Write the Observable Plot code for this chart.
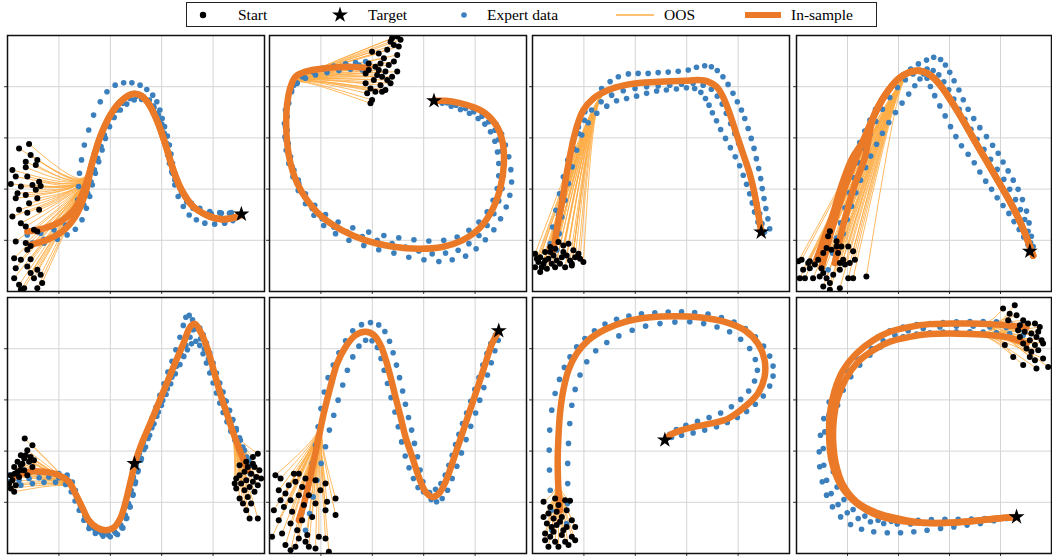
<!DOCTYPE html>
<html><head><meta charset="utf-8">
<script src="https://cdn.jsdelivr.net/npm/d3@7"></script>
<script src="https://cdn.jsdelivr.net/npm/@observablehq/plot@0.6"></script>
<style>
body{margin:0;background:#fff;width:1052px;height:556px;position:relative;overflow:hidden;font-family:"Liberation Serif","DejaVu Serif",serif}
#legend{position:absolute;left:186px;top:2px;width:691px;height:25px;border:1px solid #222;box-sizing:border-box;background:#fff}
.lg{position:absolute;top:3px;font-size:15.5px;color:#000;line-height:18px;white-space:nowrap}
.panel{position:absolute}
</style></head><body>
<div id="legend">
<svg id="lgsvg" width="691" height="25" style="position:absolute;left:-1px;top:-1px"></svg>
<span class="lg" style="left:51px">Start</span>
<span class="lg" style="left:181px">Target</span>
<span class="lg" style="left:300px">Expert data</span>
<span class="lg" style="left:477px">OOS</span>
<span class="lg" style="left:604px">In-sample</span>
</div>
<script>
// ---------- Panel 1 ----------
const p1Main = [[7.7,23.4],[14.2,24.7],[20.6,27.3],[25.8,31.9],[29.7,39.7],[32.9,50.1],[36.1,60.5],[40.0,68.9],[43.9,74.1],[48.4,77.1],[51.6,76.7],[54.8,73.5],[58.1,67.0],[61.3,57.9],[64.5,47.5],[67.7,39.7],[72.2,33.2],[77.4,29.9],[82.6,28.3],[87.7,28.7],[90.9,29.9]];
const p1Alt = [[9.0,18.2],[15.5,20.2],[21.3,23.4],[26.4,29.3],[30.3,38.4]];
const p1Target = [91.0,30.2];
const p1DemoA = [[9.7,18.9],[14.2,20.4],[18.7,22.1],[21.9,24.1],[24.5,26.7],[26.4,30.6],[27.3,35.8],[27.7,41.0],[28.0,46.2],[28.8,51.4],[29.9,57.2],[31.6,63.1],[33.5,68.9],[36.1,74.1],[38.7,78.0],[41.9,80.6],[45.2,81.5],[48.4,81.5],[51.6,80.6],[54.2,78.9],[56.5,76.7],[58.1,74.1],[59.3,70.9],[60.2,67.6],[61.1,64.4],[62.2,60.7],[63.0,57.2],[63.6,53.7],[64.2,50.1],[65.1,46.2],[66.2,42.3],[67.7,38.4],[69.7,35.1],[72.2,32.5],[75.5,30.9],[79.3,30.4],[83.2,30.6],[87.1,30.8],[90.3,30.2]];
const p1DemoB = [[7.7,22.1],[12.9,22.8],[18.1,24.1],[22.6,26.0],[26.4,29.3],[29.7,33.8],[31.2,38.4],[32.5,42.9],[33.8,47.5],[35.1,52.0],[36.4,56.6],[37.7,61.1],[39.0,65.0],[40.6,68.3],[42.6,70.9],[44.9,73.5],[47.7,75.4],[50.3,76.3],[52.9,76.1],[55.2,74.8],[56.8,72.4],[58.1,69.6],[59.1,66.3],[60.0,63.1],[60.9,59.8],[61.7,56.6],[62.3,53.3],[63.0,50.1],[63.9,46.8],[65.1,43.6],[67.1,40.3],[69.0,37.1],[71.6,34.5],[74.8,32.5],[78.7,31.2],[82.6,30.8],[86.4,30.6]];
const p1DemoC = [[9.0,18.2],[14.2,18.9],[19.4,20.4],[23.2,22.1],[26.4,24.3],[29.0,28.0],[30.7,32.5],[32.0,37.1],[33.0,41.6],[34.2,46.2],[35.5,50.7],[36.8,55.3],[38.1,59.8],[39.7,64.4],[41.5,68.0],[43.9,70.9],[46.4,73.2],[49.3,74.8],[52.2,75.0],[54.8,74.1],[57.0,71.9],[58.7,68.9],[60.0,65.4],[61.0,61.8],[61.9,57.9],[62.8,54.0],[63.5,50.1],[64.2,46.2],[65.1,41.6],[66.4,37.1],[68.4,33.2],[70.7,29.9],[73.5,28.0],[76.8,26.7],[80.6,26.3],[84.5,26.7],[87.7,27.7],[90.0,29.3]];
const p1Starts = [[8.4,57.6],[4.5,55.9],[9.0,53.3],[11.6,51.4],[7.1,50.7],[1.9,47.5],[11.0,49.4],[7.1,48.5],[3.2,44.9],[7.7,44.9],[12.3,42.9],[9.7,41.6],[1.3,42.0],[5.2,41.0],[12.9,41.2],[11.0,39.7],[3.9,38.4],[7.1,37.7],[11.6,36.4],[3.2,36.4],[8.4,34.5],[4.5,31.9],[12.3,31.9],[7.7,30.8],[1.9,29.3],[5.2,26.7],[7.1,25.4],[10.3,24.1],[11.6,23.4],[3.2,19.5],[7.1,18.9],[9.0,17.8],[7.7,16.3],[2.6,13.0],[5.2,12.4],[9.0,12.6],[3.2,9.1],[7.7,9.8],[11.6,8.5],[12.9,6.5],[10.3,5.2],[4.5,2.6],[6.5,1.3],[11.6,1.3],[5.2,0.7],[2.6,5.2],[13.5,3.3],[9.0,7.2]];

// ---------- Panel 2 ----------
const p2Main = [[38.6,87.2],[30.9,87.8],[21.8,87.2],[14.0,85.9],[10.1,83.9],[8.2,80.0],[6.9,73.5],[6.5,65.6],[6.9,57.8],[8.2,50.0],[10.8,42.2],[14.7,35.6],[20.5,29.1],[28.3,23.9],[37.4,20.0],[47.7,17.6],[58.1,16.7],[67.2,17.4],[75.0,20.0],[81.5,24.5],[86.6,31.7],[89.9,40.8],[91.2,50.0],[90.8,57.8],[88.6,64.3],[84.0,69.6],[78.9,72.2],[73.7,73.7],[68.5,74.5],[63.9,74.5]];
const p2Target = [64.0,74.5];
const p2DemoA = [[37.4,89.8],[33.5,89.4],[29.6,88.9],[25.0,88.1],[20.5,87.2],[16.6,85.9],[12.7,83.9],[9.5,80.6],[7.3,76.1],[6.2,70.9],[5.8,65.6],[6.0,60.4],[6.5,55.2],[7.5,50.0],[9.1,44.8],[11.2,39.5],[14.0,34.3],[17.3,29.8],[21.1,25.8],[25.7,22.6],[30.9,20.0],[36.7,18.0],[42.5,16.3],[48.4,15.0],[54.2,13.4],[60.1,12.4],[65.9,11.7],[71.1,12.4],[76.3,13.8],[80.4,16.7],[84.0,20.2],[87.3,24.1],[89.9,28.4],[92.1,33.0],[93.5,37.6],[94.2,42.8],[93.9,47.6],[93.1,52.6],[91.8,57.2],[90.3,61.5],[88.2,65.3],[85.6,68.0],[82.5,70.2],[78.9,71.9],[75.0,73.2],[71.1,74.1],[67.2,74.5]];
const p2DemoB = [[36.1,86.5],[31.5,86.8],[27.0,86.3],[22.4,85.5],[17.9,84.6],[14.0,83.3],[10.8,81.3],[8.6,78.0],[7.5,73.5],[6.9,68.3],[6.9,63.0],[7.3,57.8],[8.2,52.6],[9.5,47.4],[11.4,42.2],[13.7,36.9],[16.6,32.4],[20.5,28.4],[25.0,25.2],[30.2,23.2],[36.1,21.5],[41.9,20.0],[47.7,18.7],[52.9,17.4],[58.1,15.8],[63.3,14.7],[68.5,15.0],[73.4,16.1],[77.6,18.7],[81.5,21.9],[84.7,25.8],[87.3,30.4],[89.2,35.4],[90.5,40.2],[90.9,45.2],[90.8,50.0],[90.3,54.9],[89.2,59.4],[87.7,63.0],[85.3,66.3],[82.7,68.5],[79.5,70.2],[76.3,71.5],[72.6,72.8],[69.1,73.7],[65.9,74.3]];
const p2DemoC = [[34.8,88.5],[30.2,88.1],[25.7,87.6],[21.1,86.8],[17.3,85.5],[13.4,83.9],[10.4,81.6],[8.6,78.7],[7.3,74.8],[6.5,69.6],[6.2,64.3],[6.5,59.1],[7.3,53.9],[8.8,48.7],[11.2,43.5],[14.0,38.2],[17.6,33.7],[21.8,30.1],[26.7,27.1],[32.4,24.9],[38.6,23.2],[44.5,21.9],[50.3,21.0],[56.2,20.2],[62.0,19.7],[67.8,20.0],[73.0,21.3],[77.6,23.9],[81.5,27.1],[84.7,31.1],[87.0,35.6],[88.6,40.2],[89.2,45.2],[89.2,50.0],[88.7,54.5],[87.7,58.7],[86.0,62.4],[83.8,65.4],[81.2,67.6],[77.8,69.6],[74.3,71.1],[70.7,72.4],[67.2,73.5]];
const p2Starts = [[49.7,99.6],[51.0,98.3],[47.7,98.9],[50.3,95.7],[48.4,96.3],[45.8,94.4],[49.7,92.4],[42.5,93.0],[39.9,93.7],[44.5,91.1],[38.6,89.1],[43.2,89.1],[46.4,88.5],[41.2,87.8],[49.7,85.9],[45.1,85.9],[37.4,85.2],[43.8,83.9],[47.7,83.9],[40.6,82.6],[37.4,81.3],[47.1,81.3],[43.2,80.6],[39.3,79.3],[45.1,78.7],[41.2,78.0],[38.0,77.4],[43.8,78.0],[39.9,74.8],[39.3,73.5],[42.5,86.5],[48.4,89.8],[47.1,97.6],[38.6,86.5],[45.8,82.6],[41.9,84.6]];

// ---------- Panel 3 ----------
const p3Main = [[8.2,16.1],[9.4,23.9],[11.4,34.3],[13.3,46.1],[15.3,56.5],[17.2,64.3],[19.8,70.9],[23.7,75.4],[29.5,78.7],[36.0,80.6],[43.7,81.6],[51.5,82.0],[59.3,82.3],[64.4,82.6],[68.3,82.0],[71.6,80.0],[74.1,76.1],[76.7,69.6],[79.3,61.7],[81.9,53.9],[84.5,46.1],[86.4,38.2],[87.7,31.1],[89.0,23.2]];
const p3Target = [89.0,23.2];
const p3DemoA = [[6.9,18.7],[7.8,25.2],[9.1,31.7],[10.5,38.2],[12.0,44.8],[13.7,51.3],[15.5,57.8],[17.9,64.3],[20.4,70.2],[23.7,75.4],[26.9,79.3],[30.2,82.0],[33.4,83.9],[37.3,85.0],[41.1,85.2],[45.0,85.2],[48.9,85.5],[52.8,85.7],[56.7,86.0],[60.6,86.5],[63.8,87.6],[67.0,88.2],[69.6,87.8],[71.9,86.3],[74.1,83.9],[76.1,80.9],[78.0,77.4],[79.7,74.1],[81.3,70.9],[82.6,67.6],[83.9,63.7],[85.1,59.8],[86.2,55.9],[87.1,51.9],[88.0,48.0],[88.8,44.1],[89.4,40.2],[90.1,36.3],[90.8,32.4],[91.6,28.4],[92.3,24.5]];
const p3DemoB = [[8.2,16.7],[9.1,23.2],[10.1,29.8],[11.4,36.3],[12.7,42.8],[14.2,49.3],[15.9,55.9],[17.9,61.7],[20.2,66.9],[23.0,70.9],[26.7,74.1],[30.8,76.7],[35.3,78.4],[39.9,79.3],[44.4,80.0],[48.9,80.3],[53.4,80.6],[58.0,81.0],[62.5,81.3],[66.4,80.6],[69.6,79.0],[71.9,76.3],[73.8,73.2],[75.4,69.6],[77.1,65.6],[78.7,61.7],[80.2,57.8],[81.9,53.9],[83.2,50.0],[84.5,46.1],[85.5,42.2],[86.4,38.2],[87.3,34.3],[88.4,30.4],[89.3,26.5],[90.3,23.2]];
const p3DemoC = [[9.4,16.1],[10.4,22.6],[11.4,29.1],[12.7,35.6],[14.0,42.2],[15.5,48.7],[17.2,55.2],[19.2,61.1],[21.7,65.9],[25.0,69.6],[28.9,72.4],[32.7,74.5],[36.6,75.4],[40.5,76.3],[44.4,77.4],[48.3,78.3],[52.1,78.7],[56.0,79.1],[59.9,79.6],[63.1,79.3],[65.5,77.8],[67.3,75.4],[68.7,72.8],[70.0,69.8],[71.6,66.7],[73.2,63.3],[75.1,59.8],[77.0,56.2],[78.9,52.6],[80.6,49.1],[82.0,45.4],[83.3,41.9],[84.5,38.2],[85.5,34.6],[86.4,31.1],[87.7,27.1],[89.3,23.9]];
const p3Starts = [[1.0,14.7],[3.0,13.4],[4.9,15.4],[6.9,17.4],[8.8,16.7],[10.1,19.3],[12.0,18.0],[14.0,18.7],[15.9,16.1],[17.9,14.7],[19.8,11.5],[18.5,12.8],[14.6,12.1],[12.7,9.5],[15.3,10.8],[11.4,13.4],[9.4,12.1],[7.5,10.8],[6.2,12.8],[4.3,10.8],[2.3,11.5],[1.0,9.5],[3.0,7.6],[5.6,8.9],[8.8,9.5],[10.7,10.8],[13.3,14.1],[16.6,13.4],[8.2,14.1],[4.9,12.1],[1.7,12.8],[12.0,15.4],[6.9,15.4],[3.6,9.5],[15.3,10.2]];

// ---------- Panel 4 ----------
const p4Main = [[9.8,9.1],[12.4,19.0],[15.0,28.1],[18.3,38.6],[22.2,49.0],[26.1,58.8],[30.1,68.0],[34.6,76.5],[39.9,83.0],[45.1,85.9],[49.7,85.9],[53.6,83.6],[57.5,79.1],[61.4,73.2],[65.4,66.7],[69.9,58.8],[74.5,51.0],[79.1,43.1],[83.6,35.3],[87.6,27.4],[90.8,19.6],[92.8,14.0]];
const p4AltA = [[7.8,12.4],[11.1,21.6],[14.4,30.7],[17.6,41.2],[21.6,51.6]];
const p4AltB = [[15.0,11.1],[17.0,20.3],[19.6,30.7],[22.9,41.8],[26.8,52.3]];
const p4Target = [91.5,15.7];
const p4DemoA = [[10.5,12.4],[11.8,17.6],[13.3,22.9],[15.0,28.1],[16.7,33.3],[18.3,38.6],[19.9,43.8],[21.4,48.8],[23.1,53.6],[24.8,58.2],[26.8,62.7],[28.8,67.0],[31.0,71.2],[33.3,74.9],[35.9,78.4],[38.8,81.7],[41.8,84.6],[44.8,86.9],[47.8,88.9],[51.0,90.4],[53.8,91.5],[56.5,90.6],[58.4,88.5],[60.1,85.6],[61.8,82.3],[63.7,78.7],[65.4,74.9],[67.3,71.2],[69.5,67.6],[71.9,64.0],[74.5,60.5],[76.9,57.1],[79.1,54.0],[81.0,50.6],[83.0,47.1],[85.0,43.5],[86.9,39.9],[88.6,35.9],[90.2,31.4],[91.2,26.8],[92.1,21.6],[92.8,17.6]];
const p4DemoB = [[15.0,11.1],[16.7,17.0],[18.3,22.6],[19.9,28.1],[21.6,33.3],[23.3,38.6],[25.1,43.5],[27.1,48.4],[29.1,52.9],[31.4,57.5],[33.7,61.8],[36.2,66.0],[38.8,69.9],[41.4,73.6],[44.0,77.1],[46.4,80.4],[48.4,83.0],[49.9,85.0],[51.2,83.3],[52.5,80.1],[54.2,76.5],[56.2,72.5],[58.3,68.6],[60.4,64.4],[62.5,60.5],[64.7,56.9],[67.3,53.6],[69.7,50.3],[71.9,46.7],[74.2,43.1],[76.5,39.9],[78.7,36.6],[81.0,33.6],[83.3,30.5],[85.3,27.3],[87.3,24.2],[89.1,21.3],[90.8,18.3],[92.1,15.7]];
const p4DemoC = [[12.4,8.5],[14.1,15.0],[15.7,20.9],[17.3,26.8],[19.0,32.7],[20.7,38.6],[22.5,44.4],[24.4,50.3],[26.5,55.9],[28.8,61.4],[31.1,66.4],[33.7,71.2],[36.6,75.8],[39.6,79.7],[42.7,82.7],[45.7,85.0],[48.6,86.3],[51.2,86.9],[53.6,86.3],[55.8,84.6],[57.8,81.9],[59.7,78.8],[61.7,75.2],[63.8,71.2],[66.0,67.3],[68.4,63.4],[70.8,59.5],[73.5,55.5],[76.1,51.6],[78.7,47.7],[81.3,43.8],[83.6,39.9],[85.9,35.9],[87.8,32.0],[89.5,28.1],[90.8,23.5],[91.8,19.0]];
const p4Starts = [[13.1,23.5],[15.7,19.6],[17.6,17.6],[20.3,17.6],[22.2,15.7],[22.9,12.4],[20.9,11.1],[18.3,12.4],[16.3,15.0],[13.7,16.3],[11.8,17.0],[10.5,15.0],[8.5,12.4],[5.2,11.8],[2.0,12.4],[0.7,11.8],[2.6,8.5],[4.6,11.1],[7.2,10.5],[9.8,9.1],[10.5,7.2],[9.1,5.9],[11.8,5.2],[13.1,3.3],[10.5,2.0],[14.4,6.5],[17.0,8.5],[19.0,10.5],[20.3,5.2],[22.2,5.2],[17.0,1.3],[13.1,0.7],[27.4,5.9],[6.5,5.2],[3.3,5.2],[1.3,5.2],[15.7,17.6],[12.4,21.6],[17.0,11.1],[5.2,9.1]];

// ---------- Panel 5 ----------
const p5Left = [[2.6,29.9],[7.7,31.9],[14.2,31.9],[20.0,30.6],[23.9,28.0],[26.4,23.4],[29.0,18.2],[31.6,13.0],[34.8,10.1],[38.1,9.1],[41.3,10.1],[43.9,13.7],[45.8,19.5],[47.7,27.3],[49.4,34.8]];
const p5Right = [[93.5,32.5],[90.9,39.0],[88.4,45.5],[85.8,53.3],[83.2,61.1],[80.6,70.2],[78.0,79.3],[75.5,85.8],[72.9,89.7],[71.0,88.4],[68.4,81.9],[65.1,74.1],[61.9,66.3],[58.7,58.5],[55.5,50.7],[52.2,42.9],[49.4,34.8]];
const p5Target = [49.4,35.1];
const p5DemoA = [[0.6,30.6],[4.5,31.2],[8.4,31.5],[12.3,31.5],[16.1,31.5],[20.0,31.2],[23.2,30.6],[25.2,27.9],[26.4,24.7],[27.7,20.8],[29.4,16.9],[31.2,13.0],[33.3,10.1],[35.9,8.5],[38.7,7.8],[41.7,8.5],[44.1,11.1],[45.8,15.0],[47.1,19.5],[48.1,24.7],[49.0,29.9],[50.1,34.5],[51.3,39.0],[52.9,43.6],[54.6,48.1],[56.2,52.7],[57.8,57.2],[59.3,61.8],[60.9,66.3],[62.4,70.9],[64.0,75.1],[65.5,79.6],[67.1,84.5],[68.4,89.1],[69.4,92.3],[70.7,93.0],[72.0,91.3],[73.5,87.8],[75.1,83.9],[76.6,80.0],[78.2,76.1],[79.7,71.8],[81.3,67.6],[82.8,63.7],[84.4,59.8],[85.9,55.9],[87.5,52.0],[89.0,48.1],[90.6,44.2],[92.2,40.3],[93.9,36.4]];
const p5DemoB = [[0.6,28.0],[4.5,28.6],[8.4,29.3],[12.3,29.6],[16.1,29.9],[20.0,29.6],[23.2,28.9],[25.2,26.0],[26.8,22.4],[28.4,18.5],[30.1,14.6],[32.0,11.1],[34.2,8.8],[36.8,7.5],[39.3,7.2],[42.2,7.8],[44.5,10.1],[46.2,13.7],[47.6,18.2],[48.8,23.1],[49.8,28.0],[50.8,32.5],[52.1,37.1],[53.7,41.6],[55.3,46.2],[57.0,50.7],[58.7,55.3],[60.4,59.8],[62.2,64.4],[64.0,68.9],[65.8,73.1],[67.7,77.4],[69.4,81.3],[71.0,84.5],[72.2,87.4],[73.5,89.1],[74.8,88.1],[76.1,85.5],[77.4,82.2],[78.7,78.3],[80.0,74.4],[81.3,70.5],[82.6,66.6],[83.9,63.1],[85.1,59.5],[86.4,55.9],[87.7,52.3],[89.0,48.8],[90.3,45.2],[91.6,41.6],[93.1,37.7],[94.8,34.5]];
const p5DemoC = [[0.6,26.0],[5.2,26.7],[9.7,27.3],[14.2,27.8],[18.7,27.8],[22.6,27.0],[24.8,24.1],[26.3,20.5],[27.9,16.9],[29.7,13.0],[31.7,9.8],[34.2,7.8],[37.2,6.8],[40.0,6.5],[42.8,7.4],[44.9,10.0],[46.4,13.8],[47.7,18.2],[48.8,22.8],[49.7,27.3],[50.7,31.9],[51.9,36.4],[53.1,40.6],[54.7,44.9],[56.2,49.1],[58.1,53.6],[59.9,57.9],[61.7,62.1],[63.5,66.3],[65.3,70.2],[67.1,73.8],[68.6,77.0],[70.0,79.6],[71.6,81.9],[73.3,82.9],[74.8,81.3],[76.1,78.0],[77.4,74.4],[78.7,70.5],[80.0,66.6],[81.3,62.7],[82.6,58.8],[83.9,55.1],[85.4,51.5],[86.9,47.8],[88.5,44.2],[90.0,40.6],[91.6,37.1],[93.1,33.8],[94.4,31.2]];
const p5StartsLeft = [[6.7,44.9],[9.7,42.3],[7.7,40.3],[5.2,38.4],[9.0,37.7],[6.5,37.1],[3.9,35.8],[8.4,35.8],[5.2,34.5],[2.6,33.8],[9.7,33.8],[6.5,32.5],[3.9,31.9],[1.3,30.6],[7.7,30.6],[4.5,29.9],[1.9,28.6],[0.6,27.3],[3.2,26.7],[1.3,25.4],[2.6,24.1],[5.8,35.1],[7.1,38.4],[10.3,36.4],[4.9,32.5],[2.8,31.2]];
const p5StartsRight = [[97.4,39.0],[95.5,37.7],[92.9,35.8],[90.3,34.5],[93.5,33.8],[96.1,33.8],[98.0,32.5],[92.2,31.9],[94.8,31.2],[90.3,30.6],[96.8,29.9],[89.0,29.3],[92.9,28.6],[95.5,28.0],[90.9,27.3],[97.4,26.7],[94.2,26.0],[89.0,25.4],[92.2,24.7],[96.1,24.1],[90.3,21.5],[93.5,22.1],[91.6,19.5],[92.9,16.9],[94.2,13.7],[97.4,13.7],[88.4,27.3],[95.5,35.1],[98.7,29.3],[94.8,19.5]];

// ---------- Panel 6 ----------
const p6Main = [[11.4,13.0],[13.4,19.5],[15.3,27.3],[17.3,36.5],[19.2,45.6],[21.1,54.7],[23.7,65.1],[26.3,74.2],[29.6,80.7],[33.5,85.3],[37.4,86.6],[40.6,85.3],[43.2,81.4],[45.1,76.2],[47.1,69.0],[49.0,61.2],[51.0,53.4],[52.9,45.6],[55.5,37.8],[58.1,29.9],[60.7,24.1],[63.3,22.1],[65.9,23.4],[68.5,28.0],[71.1,35.2],[73.7,43.0],[76.3,50.8],[78.9,58.6],[81.5,66.4],[84.0,74.2],[86.6,82.0],[89.2,87.0]];
const p6Target = [89.2,87.0];
const p6DemoA = [[10.8,9.1],[12.5,15.6],[14.0,22.1],[15.3,28.6],[16.6,35.2],[17.9,42.3],[18.9,49.5],[20.0,56.6],[21.3,63.1],[22.8,68.7],[24.8,73.6],[27.0,78.4],[29.6,83.1],[32.4,87.0],[35.8,89.4],[39.3,90.2],[42.5,89.3],[44.9,86.7],[46.7,82.9],[48.1,78.4],[49.4,73.6],[50.6,68.7],[51.8,63.5],[52.9,58.3],[54.1,53.1],[55.3,48.2],[56.4,43.0],[57.6,37.8],[58.6,32.6],[59.7,28.0],[61.0,24.1],[62.9,21.1],[65.0,20.2],[67.2,21.5],[69.3,24.7],[71.1,29.3],[72.9,34.1],[74.7,39.3],[76.5,44.5],[78.3,49.7],[80.2,54.9],[81.8,59.9],[83.4,64.8],[84.8,69.7],[86.3,74.5],[87.7,79.2],[89.0,83.3]];
const p6DemoB = [[14.0,9.1],[15.6,15.6],[17.0,22.1],[18.5,28.6],[20.1,35.2],[21.8,41.7],[23.3,48.2],[25.0,54.0],[26.7,59.9],[28.5,65.8],[30.3,71.6],[32.4,76.8],[34.8,81.0],[37.4,83.3],[39.9,83.1],[42.0,80.5],[43.4,76.2],[44.6,71.6],[45.9,66.4],[47.3,60.9],[48.8,55.3],[50.1,49.5],[51.4,43.6],[52.8,38.1],[54.3,33.5],[56.0,29.3],[57.8,25.8],[59.9,24.1],[62.3,23.8],[64.6,25.1],[66.7,27.3],[68.4,30.6],[69.8,34.5],[71.1,38.4],[72.4,42.6],[73.7,46.6],[75.1,50.8],[76.7,54.9],[78.3,59.5],[79.9,64.1],[81.5,68.7],[83.0,73.6],[84.6,78.1],[86.1,82.0],[87.9,85.3]];
const p6Starts = [[2.3,30.6],[4.3,29.3],[9.5,31.2],[11.4,31.2],[3.6,24.7],[7.5,26.7],[10.1,28.0],[14.0,29.3],[17.9,28.6],[21.8,27.3],[12.7,26.0],[6.2,23.4],[11.4,22.8],[4.3,20.8],[8.2,20.8],[15.3,22.8],[19.8,24.7],[25.7,21.5],[1.7,16.9],[5.6,18.2],[8.8,16.3],[13.4,18.9],[17.9,19.5],[22.4,20.2],[3.6,13.0],[8.2,11.7],[12.7,13.0],[16.6,14.3],[21.8,16.9],[25.7,15.0],[1.0,6.5],[4.9,7.8],[10.8,9.1],[14.7,7.2],[19.2,6.5],[21.8,5.9],[6.2,3.3],[10.1,2.6],[15.3,2.6],[17.9,2.0],[8.2,1.3],[23.1,0.7],[11.4,5.9],[14.0,4.6]];

// ---------- Panel 7 ----------
const p7Main = [[10.7,16.9],[10.1,24.7],[9.8,35.2],[10.1,45.6],[10.7,54.7],[12.0,63.8],[14.0,71.6],[17.2,78.1],[21.7,83.3],[28.2,87.5],[36.0,90.5],[45.0,92.2],[55.4,92.7],[65.7,92.2],[74.8,90.5],[82.6,87.2],[87.7,82.0],[90.3,75.5],[90.3,69.0],[87.7,62.5],[82.6,57.3],[76.1,52.7],[69.6,50.8],[63.1,49.5],[58.0,48.2],[54.1,46.6],[52.3,45.3]];
const p7Target = [51.5,44.3];
const p7DemoA = [[7.5,9.1],[7.2,16.9],[6.9,24.7],[6.6,32.6],[6.5,40.4],[6.7,48.2],[7.5,56.0],[8.8,62.5],[10.5,68.0],[12.4,72.7],[14.6,76.8],[17.2,80.7],[20.4,84.0],[24.1,87.0],[28.2,89.6],[32.7,91.5],[37.5,92.8],[42.4,93.6],[47.6,94.0],[52.8,94.3],[58.0,94.4],[63.1,94.1],[68.3,93.5],[73.5,92.2],[78.4,90.4],[82.8,87.9],[86.7,84.6],[89.9,81.0],[92.3,77.1],[93.6,73.2],[93.6,69.3],[92.3,65.4],[89.8,61.5],[86.7,58.3],[83.3,55.5],[79.7,53.1],[75.8,51.2],[71.6,49.5],[67.0,48.2],[62.5,47.1],[58.0,46.2],[54.1,45.3]];
const p7DemoB = [[13.3,11.7],[13.6,19.5],[13.7,27.3],[13.7,35.2],[14.0,43.0],[14.5,50.8],[15.3,57.9],[16.6,64.1],[18.5,69.7],[21.1,74.9],[24.6,79.2],[28.9,82.4],[33.6,85.0],[38.8,87.2],[44.0,88.8],[49.6,89.8],[55.4,90.4],[61.2,90.5],[66.6,89.8],[71.8,88.5],[76.7,86.6],[81.0,83.7],[84.5,80.1],[86.7,75.8],[87.5,71.6],[86.4,67.4],[84.1,63.5],[81.0,60.2],[77.4,57.3],[73.2,54.9],[68.7,53.1],[64.2,51.6],[59.7,50.1],[56.0,48.4],[53.4,46.6]];
const p7Starts = [[4.3,20.2],[8.8,21.5],[12.7,20.8],[14.6,20.6],[6.9,18.2],[10.1,18.9],[6.2,15.6],[9.4,16.3],[13.3,16.9],[4.3,14.3],[8.2,13.7],[11.4,14.3],[15.3,13.0],[5.6,11.7],[9.4,11.1],[13.3,10.4],[16.6,10.4],[4.9,7.8],[8.2,8.5],[11.4,7.2],[15.3,6.5],[4.9,5.2],[8.8,4.6],[12.7,4.6],[16.6,5.2],[6.2,2.6],[10.1,2.6],[14.0,3.3],[7.5,10.4],[10.7,12.4],[12.0,9.1],[6.9,6.5]];

// ---------- Panel 8 ----------
const p8Main = [[90.2,88.5],[82.3,89.2],[75.8,89.6],[68.0,89.8],[60.1,89.8],[52.3,89.6],[44.4,88.5],[36.6,86.6],[30.1,83.3],[23.5,78.1],[18.3,71.6],[15.0,63.8],[13.1,54.7],[12.8,45.6],[13.7,36.5],[17.0,27.3],[22.2,20.8],[30.1,15.6],[39.2,13.0],[49.7,12.0],[60.1,12.0],[70.6,12.8],[78.4,13.7],[86.3,14.3]];
const p8Alt = [[90.2,82.0],[82.3,84.6],[75.8,85.3],[68.0,85.7],[60.1,85.9],[52.3,85.7],[44.4,84.6],[36.6,82.7],[30.1,79.4],[24.2,74.9],[19.6,68.7],[16.3,61.2],[14.6,52.1],[14.4,43.6],[15.4,35.2],[18.3,26.7],[23.5,20.2],[31.4,15.9],[40.5,13.5]];
const p8Target = [86.3,14.3];
const p8DemoA = [[88.9,89.8],[83.6,90.2],[78.4,90.5],[73.2,90.6],[68.0,90.6],[62.7,90.5],[57.5,90.2],[52.3,89.8],[47.1,89.4],[41.8,88.5],[36.6,87.0],[32.0,84.6],[27.4,81.4],[22.9,76.8],[19.0,71.6],[15.7,65.8],[12.8,59.2],[10.7,52.7],[9.4,46.2],[8.9,39.7],[9.1,33.9],[10.1,28.0],[11.8,22.8],[14.1,18.2],[17.3,14.3],[21.2,11.3],[25.5,9.5],[30.3,8.5],[35.6,8.1],[40.8,8.1],[46.0,8.5],[51.2,9.1],[56.5,9.8],[61.7,10.4],[66.9,11.1],[72.1,11.7],[77.4,12.8],[82.3,13.7]];
const p8DemoB = [[88.9,85.3],[83.6,85.9],[78.4,86.2],[73.2,86.5],[68.0,86.6],[62.7,86.6],[57.5,86.5],[52.3,86.2],[47.1,85.7],[41.8,84.6],[37.2,83.1],[32.9,80.7],[28.8,77.5],[24.8,73.6],[21.3,69.0],[18.3,63.8],[16.1,57.9],[14.4,51.4],[13.6,44.9],[13.6,38.4],[14.4,31.9],[15.9,26.0],[18.6,21.1],[22.2,17.2],[26.8,14.6],[32.0,13.0],[37.2,12.6],[42.5,12.8],[47.7,13.0],[52.9,13.3],[58.2,13.4],[63.4,13.4],[68.6,13.5],[73.8,13.7],[79.1,13.9],[84.3,14.2]];
const p8DemoC = [[88.9,87.5],[82.3,88.3],[75.8,88.5],[69.3,88.8],[62.7,88.8],[56.2,88.5],[49.7,87.9],[43.8,87.0],[38.6,85.3],[34.0,83.1],[29.4,80.1],[25.1,76.2],[21.2,71.6],[17.9,66.4],[15.0,60.5],[12.7,54.0],[11.1,47.5],[10.5,41.0],[10.7,34.5],[11.8,28.6],[13.6,23.4],[16.3,19.1],[19.9,15.9],[24.2,13.7],[29.0,12.4],[34.2,11.7],[39.5,11.5],[44.7,11.5],[49.9,11.7],[55.2,12.0],[60.4,12.1],[65.6,12.4],[70.8,12.8],[76.1,13.2],[81.3,13.8]];
const p8Starts = [[81.0,95.7],[85.6,97.0],[86.3,93.1],[83.6,93.7],[88.9,91.1],[87.6,89.2],[90.8,89.8],[93.5,89.8],[94.8,86.6],[92.1,85.9],[89.5,86.6],[87.6,84.6],[94.1,84.6],[96.1,83.3],[91.5,83.3],[88.9,82.0],[93.5,81.4],[96.7,82.0],[90.2,80.1],[94.8,79.4],[92.1,78.8],[96.7,76.2],[93.5,75.5],[88.9,73.6],[85.0,76.8],[94.1,72.3],[98.7,72.9],[81.7,81.4],[91.5,76.8],[86.9,87.2],[83.0,91.1],[95.4,88.5]];

const gridTicks = [20, 40, 60, 80];

// ---------- panel assembly (tables built from the arrays above) ----------
const p8AltFull = p8Alt.concat(p8Main.slice(19));
const panels = [
  {target: p1Target, starts: p1Starts, demos: [p1DemoA, p1DemoB, p1DemoC],
   inSample: [p1Main, p1Alt.concat(p1Main.slice(5))],
   oos: [{s: p1Starts, path: p1Main, j: 4}]},
  {target: p2Target, starts: p2Starts, demos: [p2DemoA, p2DemoB, p2DemoC],
   inSample: [p2Main], oos: [{s: p2Starts, path: p2Main, j: 4}]},
  {target: p3Target, starts: p3Starts, demos: [p3DemoA, p3DemoB, p3DemoC],
   inSample: [p3Main], oos: [{s: p3Starts, path: p3Main, j: 7}]},
  {target: p4Target, starts: p4Starts, demos: [p4DemoA, p4DemoB, p4DemoC],
   inSample: [p4Main, p4AltA.concat(p4Main.slice(5)), p4AltB.concat(p4Main.slice(6))],
   oos: [{s: p4Starts, path: p4Main, j: 8}]},
  {target: p5Target, starts: p5StartsLeft.concat(p5StartsRight), demos: [p5DemoA, p5DemoB, p5DemoC],
   inSample: [p5Left, p5Right],
   oos: [{s: p5StartsLeft, path: p5Left, j: 4}, {s: p5StartsRight, path: p5Right, j: 2}]},
  {target: p6Target, starts: p6Starts, demos: [p6DemoA, p6DemoB],
   inSample: [p6Main], oos: [{s: p6Starts, path: p6Main, j: 4}]},
  {target: p7Target, starts: p7Starts, demos: [p7DemoA, p7DemoB],
   inSample: [p7Main], oos: [{s: p7Starts, path: p7Main, j: 1}]},
  {target: p8Target, starts: p8Starts, demos: [p8DemoA, p8DemoB, p8DemoC],
   inSample: [p8Main, p8AltFull],
   oos: [{s: p8Starts.filter((d, i) => i % 2 === 0), path: p8Main, j: 2},
         {s: p8Starts.filter((d, i) => i % 2 === 1), path: p8AltFull, j: 2}]}
];

const COL_BLUE = "#3b80bd", COL_THICK = "#ea7a28", COL_THIN = "#ffad45";
const frameLeft = [7, 269, 532, 796], frameW = [257, 257, 257, 255], frameTop = [35, 297], frameH = 256;
const ml = 4, mt = 1, mr = 1, mb = 4;

panels.forEach((p, i) => {
  const col = i % 4, row = Math.floor(i / 4);
  const oosRows = [];
  let id = 0;
  p.oos.forEach(g => {
    g.s.forEach(st => {
      [st].concat(g.path.slice(g.j)).forEach(([x, y]) => oosRows.push({x, y, id}));
      id++;
    });
  });
  const inRows = [];
  p.inSample.forEach((pts, k) => pts.forEach(([x, y]) => inRows.push({x, y, k})));
  const demoRows = [];
  p.demos.forEach((pts, k) => pts.forEach(([x, y]) => demoRows.push({x, y, k})));

  const chart = Plot.plot({
    width: frameW[col] + ml + mr, height: frameH + mt + mb,
    marginLeft: ml, marginTop: mt, marginRight: mr, marginBottom: mb,
    x: {domain: [0, 100]}, y: {domain: [0, 100]},
    style: {background: "transparent", overflow: "visible"},
    marks: [
      Plot.gridX(gridTicks, {stroke: "#d4d4d4", strokeOpacity: 1, strokeWidth: 1}),
      Plot.gridY(gridTicks, {stroke: "#d4d4d4", strokeOpacity: 1, strokeWidth: 1}),
      Plot.axisX(gridTicks, {tickSize: 3, tickFormat: () => "", label: null, stroke: "#333"}),
      Plot.axisY(gridTicks, {tickSize: 3, tickFormat: () => "", label: null, stroke: "#333"}),
      Plot.line(oosRows, {x: "x", y: "y", z: "id", stroke: COL_THIN, strokeWidth: 1, strokeOpacity: 0.85, curve: "basis", clip: true}),
      Plot.dot(demoRows, {x: "x", y: "y", r: 2.8, fill: COL_BLUE, stroke: "none", clip: true}),
      Plot.line(inRows, {x: "x", y: "y", z: "k", stroke: COL_THICK, strokeWidth: 6.5, curve: "catmull-rom", clip: true}),
      Plot.dot(p.starts, {x: d => d[0], y: d => d[1], r: 3, fill: "#000", stroke: "none", clip: true}),
      Plot.dot([p.target], {x: d => d[0], y: d => d[1], symbol: "star", r: 5, fill: "#000", stroke: "none"}),
      Plot.frame({stroke: "#111", strokeWidth: 1.5})
    ]
  });
  const div = document.createElement("div");
  div.className = "panel";
  div.style.left = (frameLeft[col] - ml) + "px";
  div.style.top = (frameTop[row] - mt) + "px";
  div.appendChild(chart);
  document.body.appendChild(div);
});

// ---------- legend symbols ----------
const lg = d3.select("#lgsvg");
lg.append("circle").attr("cx", 17).attr("cy", 13).attr("r", 3.2).attr("fill", "#000");
lg.append("path").attr("d", d3.symbol(d3.symbolStar, 80)()).attr("transform", "translate(154,13)").attr("fill", "#000");
lg.append("circle").attr("cx", 278).attr("cy", 13).attr("r", 2.8).attr("fill", COL_BLUE);
lg.append("line").attr("x1", 430).attr("x2", 468).attr("y1", 13).attr("y2", 13).attr("stroke", COL_THIN).attr("stroke-width", 1.5);
lg.append("line").attr("x1", 559).attr("x2", 595).attr("y1", 13).attr("y2", 13).attr("stroke", COL_THICK).attr("stroke-width", 6);
</script>
</body></html>
